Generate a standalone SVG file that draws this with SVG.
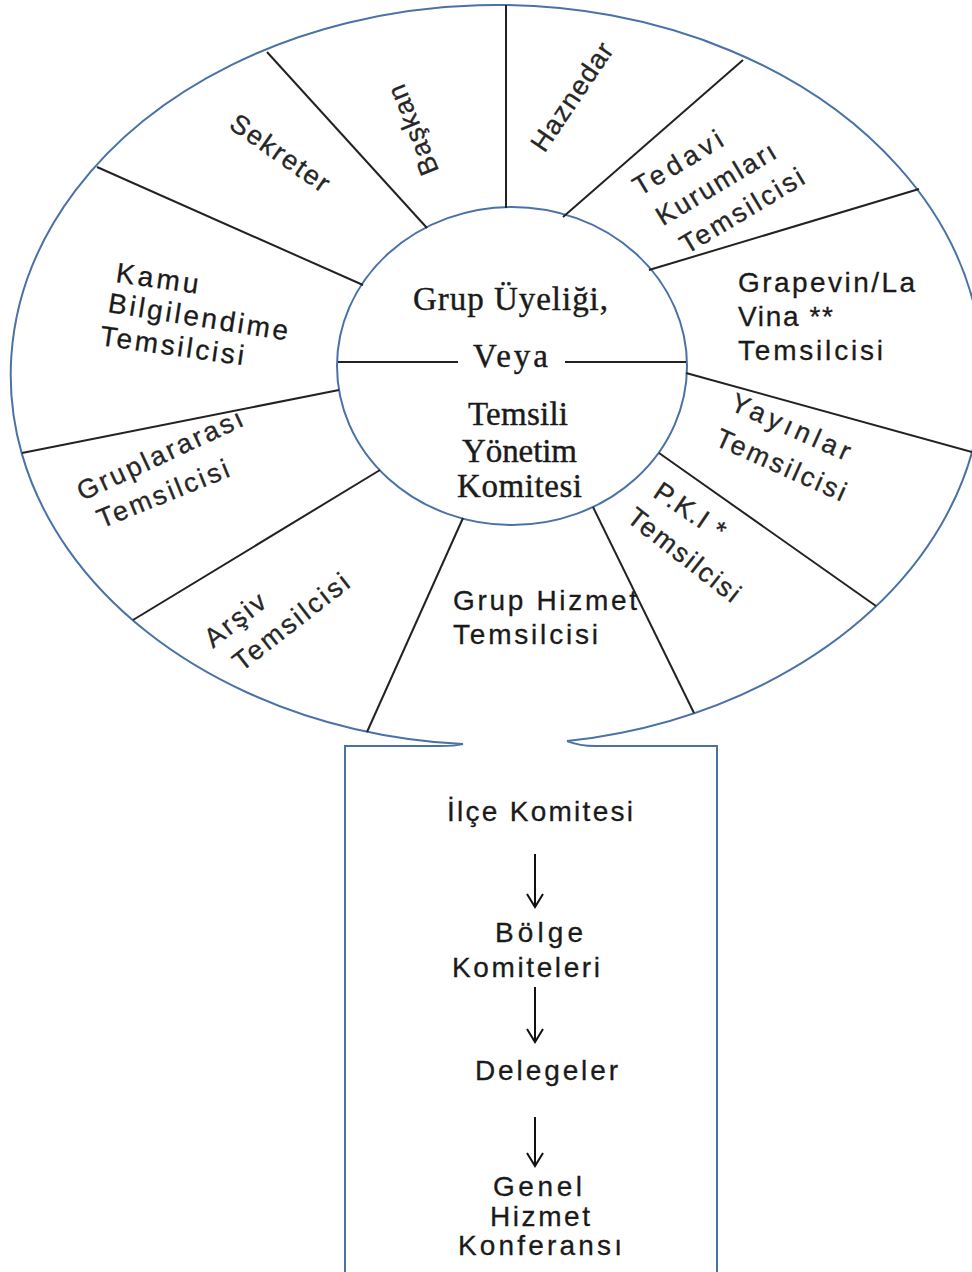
<svg xmlns="http://www.w3.org/2000/svg" width="972" height="1272" viewBox="0 0 972 1272">
<style>
.outline{fill:none;stroke:#4a72a6;stroke-width:2}
.div{stroke:#222;stroke-width:2;fill:none}
.serif{font-family:"Liberation Serif","Times New Roman",serif;font-size:33px;fill:#1a1a1a;stroke:#1a1a1a;stroke-width:0.4}
.sans{font-family:"Liberation Sans",Arial,sans-serif;font-size:28px;fill:#1a1a1a;stroke:#1a1a1a;stroke-width:0.3}
.rot{font-family:"Liberation Sans",Arial,sans-serif;font-size:27px;fill:#262626;stroke:#262626;stroke-width:0.3;text-anchor:middle}
.arrow{stroke:#111;stroke-width:2;fill:none;marker-end:url(#arr)}
</style>
<defs>
<marker id="arr" markerUnits="userSpaceOnUse" markerWidth="20" markerHeight="20" refX="0" refY="0" orient="auto" overflow="visible">
<path d="M-13,-8 L0,0 L-13,8" fill="none" stroke="#111" stroke-width="2"/>
</marker>
</defs>
<rect width="972" height="1272" fill="#fff"/>
<g id="frame">
<path class="outline" d="M463,744.1 A486,370 0 1 1 567,741.1"/>
<path class="outline" d="M463,744.1 Q455,746 440,746 H345 V1272"/>
<path class="outline" d="M567,741.1 Q580,746 595,746 H717 V1272"/>
</g>
<g id="center">
<ellipse class="outline" cx="512" cy="366" rx="175" ry="159"/>
<line class="div" x1="338" y1="362" x2="458" y2="362"/>
<line class="div" x1="565" y1="362" x2="686" y2="362"/>
<text class="serif" x="413" y="310" textLength="195" lengthAdjust="spacing">Grup Üyeliği,</text>
<text class="serif" x="473" y="367" textLength="75" lengthAdjust="spacing">Veya</text>
<text class="serif" x="468" y="425" textLength="100" lengthAdjust="spacing">Temsili</text>
<text class="serif" x="462" y="462" textLength="115" lengthAdjust="spacing">Yönetim</text>
<text class="serif" x="457" y="497" textLength="125" lengthAdjust="spacing">Komitesi</text>
</g>
<g id="dividers">
<line class="div" x1="506" y1="5" x2="506" y2="208"/>
<line class="div" x1="267" y1="52" x2="427" y2="228"/>
<line class="div" x1="97" y1="167" x2="363" y2="285"/>
<line class="div" x1="22" y1="453" x2="339" y2="390"/>
<line class="div" x1="133" y1="620" x2="380" y2="470"/>
<line class="div" x1="367" y1="732" x2="463" y2="518"/>
<line class="div" x1="593" y1="507" x2="694" y2="713"/>
<line class="div" x1="659" y1="453" x2="876" y2="606"/>
<line class="div" x1="686" y1="373" x2="972" y2="452"/>
<line class="div" x1="649" y1="270" x2="919" y2="189"/>
<line class="div" x1="563" y1="217" x2="743" y2="60"/>
</g>
<g id="baskan"><text class="rot" transform="translate(413,130) rotate(-112)" x="0" y="9" textLength="95" lengthAdjust="spacing">Başkan</text></g>
<g id="sekreter"><text class="rot" transform="translate(280,153) rotate(35)" x="0" y="9" textLength="115" lengthAdjust="spacing">Sekreter</text></g>
<g id="haznedar"><text class="rot" transform="translate(572,97) rotate(-56)" x="0" y="9" textLength="125" lengthAdjust="spacing">Haznedar</text></g>
<g id="tedavi">
<text class="rot" transform="translate(678,163) rotate(-31)" x="0" y="9" textLength="100" lengthAdjust="spacing">Tedavi</text>
<text class="rot" transform="translate(716,184) rotate(-31)" x="0" y="9" textLength="135" lengthAdjust="spacing">Kurumları</text>
<text class="rot" transform="translate(742,211) rotate(-31)" x="0" y="9" textLength="140" lengthAdjust="spacing">Temsilcisi</text>
</g>
<g id="grapevine">
<text class="sans" x="738" y="292" textLength="177" lengthAdjust="spacing">Grapevin/La</text>
<text class="sans" x="738" y="326" textLength="95" lengthAdjust="spacing">Vina **</text>
<text class="sans" x="738" y="360" textLength="145" lengthAdjust="spacing">Temsilcisi</text>
</g>
<g id="yayinlar">
<text class="rot" transform="translate(791,427) rotate(24)" x="0" y="9" textLength="128" lengthAdjust="spacing">Yayınlar</text>
<text class="rot" transform="translate(781,465) rotate(24)" x="0" y="9" textLength="140" lengthAdjust="spacing">Temsilcisi</text>
</g>
<g id="pki">
<text class="rot" transform="translate(690,511) rotate(34)" x="0" y="9" textLength="80" lengthAdjust="spacing">P.K.I *</text>
<text class="rot" transform="translate(684,555) rotate(38)" x="0" y="9" textLength="135" lengthAdjust="spacing">Temsilcisi</text>
</g>
<g id="grup-hizmet">
<text class="sans" x="453" y="610" textLength="184" lengthAdjust="spacing">Grup Hizmet</text>
<text class="sans" x="453" y="644" textLength="145" lengthAdjust="spacing">Temsilcisi</text>
</g>
<g id="arsiv">
<text class="rot" transform="translate(235,620) rotate(-38)" x="0" y="9" textLength="70" lengthAdjust="spacing">Arşiv</text>
<text class="rot" transform="translate(291,622) rotate(-38)" x="0" y="9" textLength="140" lengthAdjust="spacing">Temsilcisi</text>
</g>
<g id="gruplararasi">
<text class="rot" transform="translate(160,455) rotate(-25)" x="0" y="9" textLength="180" lengthAdjust="spacing">Gruplararası</text>
<text class="rot" transform="translate(163,494) rotate(-22)" x="0" y="9" textLength="140" lengthAdjust="spacing">Temsilcisi</text>
</g>
<g id="kamu">
<text class="sans" transform="translate(115,282) rotate(8)" x="0" y="0" textLength="83" lengthAdjust="spacing">Kamu</text>
<text class="sans" transform="translate(107,312) rotate(9)" x="0" y="0" textLength="182" lengthAdjust="spacing">Bilgilendime</text>
<text class="sans" transform="translate(99,345) rotate(8)" x="0" y="0" textLength="145" lengthAdjust="spacing">Temsilcisi</text>
</g>
<g id="ilce"><text class="sans" x="447" y="821" textLength="186" lengthAdjust="spacing">İlçe Komitesi</text></g>
<g id="bolge">
<text class="sans" x="495" y="942" textLength="88" lengthAdjust="spacing">Bölge</text>
<text class="sans" x="452" y="977" textLength="148" lengthAdjust="spacing">Komiteleri</text>
</g>
<g id="delegeler"><text class="sans" x="475" y="1080" textLength="143" lengthAdjust="spacing">Delegeler</text></g>
<g id="genel">
<text class="sans" x="493" y="1196" textLength="89" lengthAdjust="spacing">Genel</text>
<text class="sans" x="490" y="1226" textLength="100" lengthAdjust="spacing">Hizmet</text>
<text class="sans" x="458" y="1255" textLength="164" lengthAdjust="spacing">Konferansı</text>
</g>
<g id="connectors">
<line class="arrow" x1="535" y1="854" x2="535" y2="907"/>
<line class="arrow" x1="535" y1="987" x2="535" y2="1042"/>
<line class="arrow" x1="535" y1="1117" x2="535" y2="1166"/>
</g>
</svg>
